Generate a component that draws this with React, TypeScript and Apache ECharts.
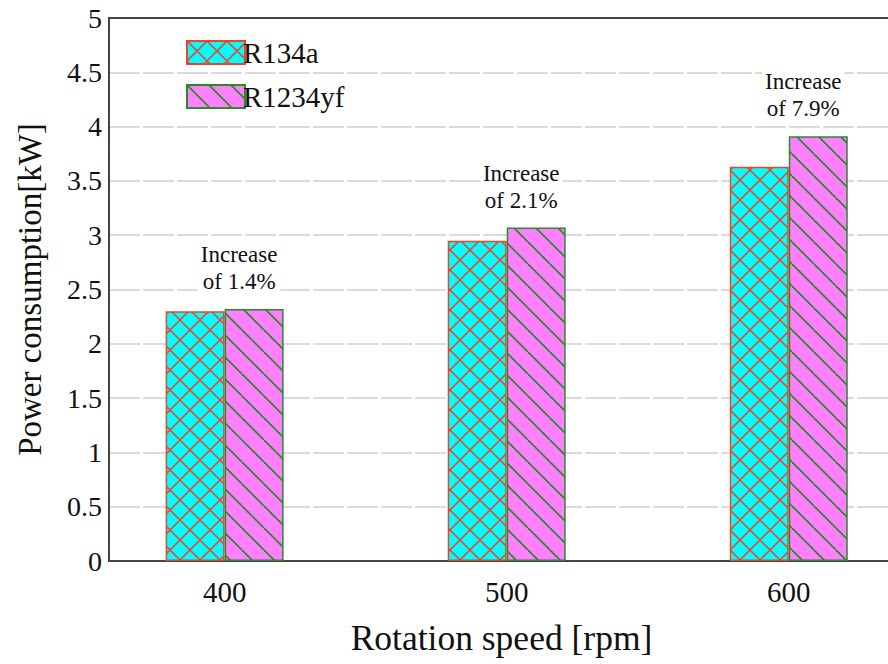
import React, { useEffect, useRef } from "react";
import * as echarts from "echarts";

const speeds = [400, 500, 600];
const r134a = [2.3, 2.95, 3.63];
const r1234yf = [2.32, 3.07, 3.91];
const increases = ["1.4%", "2.1%", "7.9%"];
const yTicks = [0, 0.5, 1, 1.5, 2, 2.5, 3, 3.5, 4, 4.5, 5];

const FONT = "Liberation Serif";

function crossPattern(): HTMLCanvasElement {
  const s = 20;
  const c = document.createElement("canvas");
  c.width = s;
  c.height = s;
  const ctx = c.getContext("2d")!;
  ctx.fillStyle = "#00ffff";
  ctx.fillRect(0, 0, s, s);
  ctx.strokeStyle = "#e0503a";
  ctx.lineWidth = 1.6;
  const segs = [
    [0, 0, s, s],
    [s, 0, 0, s],
    [-s, 0, 0, s],
    [s, 0, 2 * s, s],
    [0, -s, s, 0],
  ];
  for (const [a, b, cc, d] of segs) {
    ctx.beginPath();
    ctx.moveTo(a, b);
    ctx.lineTo(cc, d);
    ctx.stroke();
  }
  return c;
}

function stripePattern(): HTMLCanvasElement {
  const s = 22;
  const c = document.createElement("canvas");
  c.width = s;
  c.height = s;
  const ctx = c.getContext("2d")!;
  ctx.fillStyle = "#ff80ff";
  ctx.fillRect(0, 0, s, s);
  ctx.strokeStyle = "#2a8a2a";
  ctx.lineWidth = 1.8;
  const segs = [
    [0, 0, s, s],
    [-s, 0, 0, s],
    [s, 0, 2 * s, s],
  ];
  for (const [a, b, cc, d] of segs) {
    ctx.beginPath();
    ctx.moveTo(a, b);
    ctx.lineTo(cc, d);
    ctx.stroke();
  }
  return c;
}

export default function App() {
  const ref = useRef<HTMLDivElement>(null);
  useEffect(() => {
    if (!ref.current) return;
    const chart = echarts.init(ref.current, undefined, { renderer: "svg" });
    const cross = { image: crossPattern(), repeat: "repeat" };
    const stripe = { image: stripePattern(), repeat: "repeat" };
    chart.setOption({
      animation: false,
      backgroundColor: "#ffffff",
      textStyle: { fontFamily: FONT },
      grid: {
        left: 109,
        top: 18,
        bottom: 103,
        right: -70,
        outerBoundsMode: "none",
        containLabel: false,
        show: true,
        borderColor: "#444",
        borderWidth: 2,
        backgroundColor: "transparent",
      },
      legend: {
        left: 181,
        top: 33,
        orient: "vertical",
        icon: "rect",
        itemWidth: 58,
        itemHeight: 23,
        itemGap: 15,
        textStyle: { fontFamily: FONT, fontSize: 29, color: "#111", padding: [0, 0, 0, -7] },
        data: ["R134a", "R1234yf"],
      },
      xAxis: {
        type: "value",
        min: 359,
        max: 660,
        name: "Rotation speed [rpm]",
        nameLocation: "middle",
        nameGap: 59,
        nameMoveOverlap: false,
        nameTextStyle: {
          fontFamily: FONT,
          fontSize: 35.5,
          color: "#111",
          padding: [0, 64, 0, 0],
        },
        axisLine: { show: true, lineStyle: { color: "#444", width: 2 } },
        axisTick: { show: false },
        splitLine: { show: false },
        axisLabel: {
          customValues: speeds,
          fontFamily: FONT,
          fontSize: 29,
          color: "#111",
          margin: 16,
        },
      },
      yAxis: {
        type: "value",
        min: 0,
        max: 5,
        interval: 0.5,
        name: "Power consumption[kW]",
        nameLocation: "middle",
        nameGap: 63,
        nameMoveOverlap: false,
        nameTextStyle: { fontFamily: FONT, fontSize: 33, color: "#111" },
        axisLine: { show: true, lineStyle: { color: "#444", width: 2 } },
        axisTick: { show: false },
        axisLabel: {
          fontFamily: FONT,
          fontSize: 28,
          color: "#111",
          margin: 7,
          formatter: (v: number) => (yTicks.includes(v) ? String(v) : ""),
        },
        splitLine: {
          show: true,
          showMaxLine: false,
          showMinLine: false,
          lineStyle: { color: "#cfcfcf", width: 1.5, type: [31, 3] },
        },
      },
      series: [
        {
          name: "R134a",
          type: "bar",
          barWidth: 59,
          barGap: "0%",
          data: speeds.map((s, i) => [s, r134a[i]]),
          itemStyle: { color: cross, borderColor: "#e8462a", borderWidth: 1.5 },
        },
        {
          name: "R1234yf",
          type: "bar",
          barWidth: 59,
          barGap: "0%",
          data: speeds.map((s, i) => [s, r1234yf[i]]),
          itemStyle: { color: stripe, borderColor: "#2a8a2a", borderWidth: 1.5 },
          label: {
            show: true,
            position: "top",
            distance: 12,
            offset: [-15, 0],
            formatter: (p: any) => "Increase\nof " + increases[p.dataIndex],
            fontFamily: FONT,
            fontSize: 23,
            lineHeight: 27,
            color: "#111",
            backgroundColor: "#ffffff",
            padding: [0, 3, 2, 3],
            align: "center",
          },
        },
      ],
    });
    return () => chart.dispose();
  }, []);
  return (
    <div
      ref={ref}
      style={{ position: "fixed", left: 0, top: 0, width: 888, height: 664 }}
    />
  );
}
